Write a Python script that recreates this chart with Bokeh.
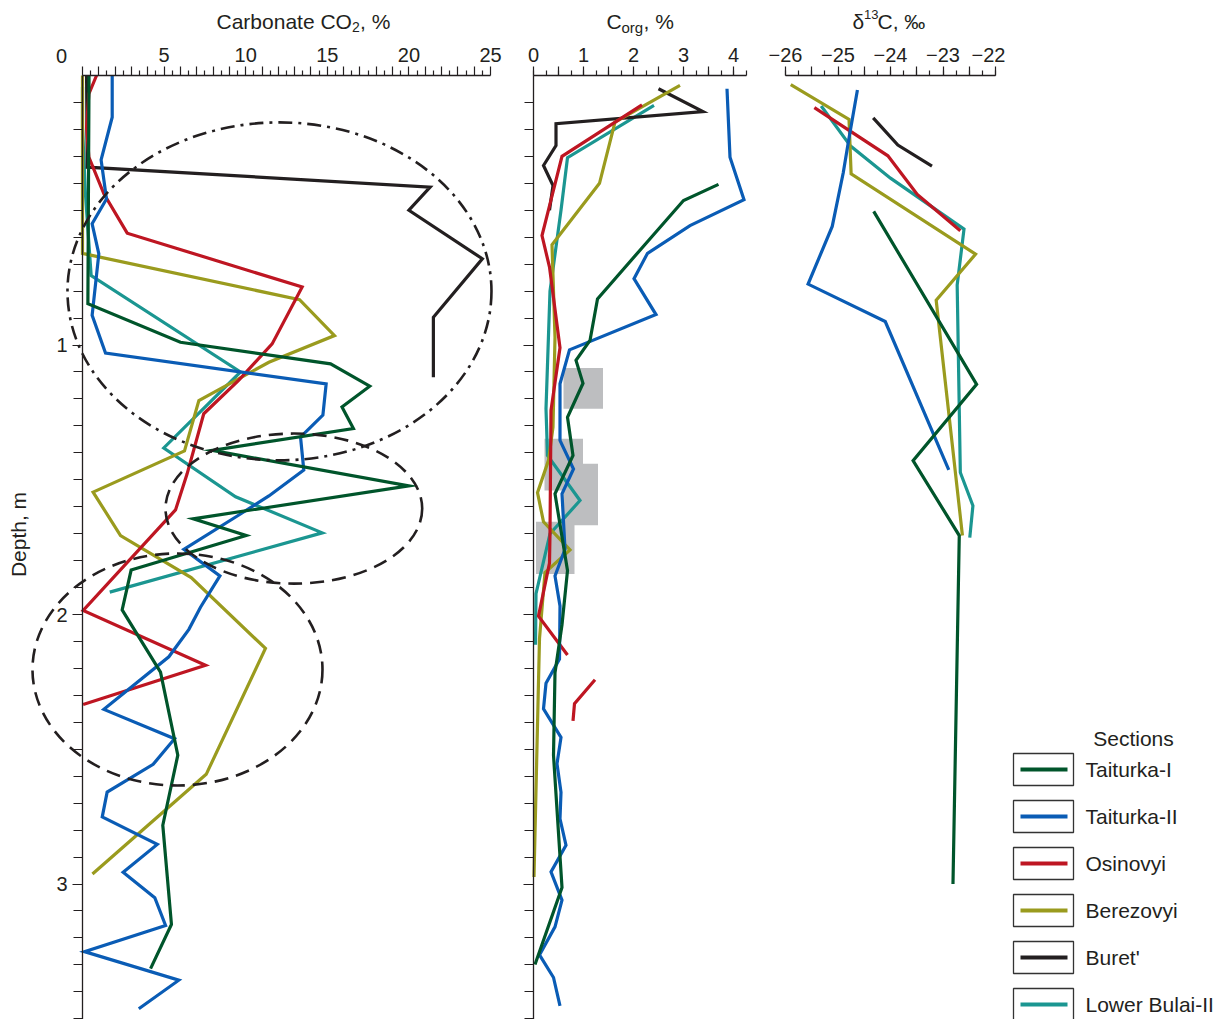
import numpy as np
from math import pi
from bokeh.plotting import figure
from bokeh.models import Range1d, FixedTicker, CustomJSTickFormatter, Label, LinearAxis
from bokeh.layouts import row
from bokeh.core.properties import value
from bokeh.embed import file_html
from bokeh.resources import INLINE

FONT = "Liberation Sans"
TXT = "#231f20"

# ---------------- data ----------------
sections = ["Taiturka-I", "Taiturka-II", "Osinovyi", "Berezovyi", "Buret'", "Lower Bulai-II"]
colors = ["#00552b", "#0a5cb5", "#be1622", "#9a9b1e", "#231f20", "#1b9691"]

# Carbonate CO2, % (value, depth m)
co2_t1_v = [0.4, 0.33, 6.0, 15.2, 17.6, 15.9, 16.6, 7.95, 20.0, 6.78, 10.03, 2.98, 2.43, 4.78, 5.84, 4.92, 5.45, 4.17]
co2_t1_d = [0.0, 0.847, 0.99, 1.07, 1.153, 1.23, 1.31, 1.391, 1.523, 1.645, 1.707, 1.835, 1.983, 2.214, 2.522, 2.782, 3.15, 3.314]
co2_t2_v = [1.82, 1.82, 1.14, 1.47, 0.59, 1.0, 0.59, 1.41, 14.93, 14.73, 13.36, 13.56, 11.42, 9.68, 6.21, 8.42, 7.23, 6.52,
            5.29, 1.31, 5.64, 4.33, 1.51, 1.21, 4.58, 2.49, 4.43, 5.09, 0.12, 5.9, 3.45]
co2_t2_d = [0.0, 0.155, 0.313, 0.458, 0.55, 0.662, 0.89, 1.03, 1.144, 1.26, 1.342, 1.464, 1.56, 1.627, 1.758, 1.857, 1.973, 2.055,
            2.157, 2.352, 2.461, 2.556, 2.659, 2.751, 2.853, 2.956, 3.051, 3.154, 3.251, 3.357, 3.463]
co2_os_v = [0.86, 0.39, 0.25, 0.39, 1.31, 2.74, 13.46, 11.62, 9.58, 7.43, 6.41, 5.7, 0.04, 7.54, 0.04]
co2_os_d = [0.0, 0.068, 0.19, 0.303, 0.439, 0.585, 0.785, 0.996, 1.13, 1.255, 1.478, 1.612, 1.985, 2.188, 2.334]
co2_be_v = [0.0, 0.0, 13.3, 15.44, 11.42, 7.13, 6.25, 0.65, 2.33, 6.66, 11.21, 7.58, 0.61]
co2_be_d = [0.0, 0.66, 0.832, 0.965, 1.064, 1.206, 1.393, 1.546, 1.707, 1.863, 2.126, 2.593, 2.963]
co2_bu_v = [0.25, 0.29, 21.3, 20.0, 24.5, 21.5, 21.5]
co2_bu_d = [0.0, 0.34, 0.414, 0.50, 0.68, 0.897, 1.12]
co2_lb_v = [0.0, 0.0, 0.18, 0.53, 9.68, 4.98, 9.38, 14.69, 1.67]
co2_lb_d = [0.043, 0.19, 0.44, 0.742, 1.10, 1.382, 1.563, 1.697, 1.917]

# Corg, %
corg_t1_v = [3.7, 3.0, 2.3, 1.28, 1.13, 0.85, 0.99, 0.68, 0.79, 0.43, 0.68, 0.57, 0.43, 0.4, 0.57, 0.03]
corg_t1_d = [0.404, 0.464, 0.612, 0.829, 0.983, 1.057, 1.142, 1.268, 1.41, 1.552, 1.837, 2.038, 2.216, 2.522, 3.013, 3.299]
corg_t2_v = [3.87, 3.93, 4.21, 3.13, 2.28, 2.01, 2.45, 0.72, 0.53, 0.53, 0.8, 0.57, 0.63, 0.43, 0.53, 0.52, 0.25, 0.2,
             0.55, 0.47, 0.55, 0.53, 0.65, 0.35, 0.57, 0.43, 0.12, 0.4, 0.53]
corg_t2_d = [0.049, 0.303, 0.461, 0.557, 0.66, 0.754, 0.887, 1.018, 1.144, 1.354, 1.46, 1.552, 1.758, 1.857, 1.968, 2.165, 2.255, 2.35,
             2.456, 2.554, 2.66, 2.758, 2.856, 2.955, 3.06, 3.159, 3.263, 3.347, 3.452]
corg_os_v = [2.17, 0.57, 0.33, 0.17, 0.32, 0.53, 0.35, 0.33, 0.32, 0.1, 0.68, np.nan, 1.23, 0.82, 0.79]
corg_os_d = [0.109, 0.30, 0.476, 0.594, 0.711, 1.01, 1.243, 1.70, 1.809, 2.006, 2.15, np.nan, 2.242, 2.331, 2.395]
corg_be_v = [2.93, 1.63, 1.32, 0.37, 0.43, 0.39, 0.3, 0.08, 0.2, 0.73, 0.23, 0.12, 0.01]
corg_be_d = [0.037, 0.173, 0.40, 0.628, 0.971, 1.305, 1.428, 1.548, 1.656, 1.76, 1.844, 2.089, 2.974]
corg_bu_v = [2.5, 3.39, 0.45, 0.45, 0.2, 0.39, 0.32]
corg_bu_d = [0.049, 0.134, 0.179, 0.26, 0.334, 0.408, 0.50]
corg_lb_v = [2.41, 0.68, 0.55, 0.33, 0.25, 0.28, 0.93, 0.33, 0.05, 0.04]
corg_lb_d = [0.111, 0.305, 0.50, 0.80, 1.237, 1.41, 1.577, 1.70, 1.923, 2.112]

# shaded Corg intervals
zone_left = [0.6, 0.22, 0.6, 0.05]
zone_right = [1.39, 0.99, 1.29, 0.82]
zone_top = [1.085, 1.348, 1.441, 1.656]
zone_bottom = [1.237, 1.54, 1.669, 1.85]

# delta13C, permil
d13_t1_v = [-24.32, -22.36, -23.57, -22.69, -22.81]
d13_t1_d = [0.504, 1.146, 1.429, 1.707, 3.0]
d13_t2_v = [-24.63, -24.79, -24.9, -25.11, -25.57, -24.1, -22.89]
d13_t2_d = [0.054, 0.232, 0.361, 0.56, 0.774, 0.913, 1.463]
d13_os_v = [-25.45, -24.05, -23.49, -22.67]
d13_os_d = [0.119, 0.298, 0.441, 0.576]
d13_be_v = [-25.9, -24.79, -24.75, -22.38, -23.13, -22.63]
d13_be_d = [0.034, 0.163, 0.365, 0.663, 0.834, 1.707]
d13_bu_v = [-24.33, -23.86, -23.21]
d13_bu_d = [0.157, 0.258, 0.336]
d13_lb_v = [-25.32, -24.76, -24.0, -22.6, -22.73, -22.67, -22.43, -22.49]
d13_lb_d = [0.113, 0.262, 0.381, 0.57, 0.778, 1.473, 1.596, 1.715]

# outlined groups in the carbonate panel (centre value, centre depth, width, height)
ell_x = [12.07, 12.95, 5.82]
ell_y = [0.801, 1.607, 2.204]
ell_w = [25.98, 15.73, 17.77]
ell_h = [1.254, 0.557, 0.861]
ell_dash = ["14 6 3 6", "14 8", "14 8"]

# ---------------- geometry ----------------
H = 1019
Y0PX = 75.0
PXM = 269.5


def dy(py):
    return (py - Y0PX) / PXM


def lx(px):
    return (px - 82) / 16.32


def mx(px):
    return (px - 533) / 50.0


def rx(px):
    return -26 + (px - 785) / 52.5


Y_BOTTOM = dy(H)
Y_TOP = dy(0)
tenths = [round(0.1 * i, 1) for i in range(1, 36)]


def base_fig(width, xr):
    p = figure(width=width, height=H, x_range=xr, y_range=Range1d(Y_BOTTOM, Y_TOP),
               x_axis_location="above", y_axis_location=None, toolbar_location=None,
               output_backend="svg", min_border_left=0, min_border_right=0,
               min_border_top=0, min_border_bottom=0)
    p.outline_line_color = None
    p.grid.visible = False
    p.background_fill_color = "white"
    p.border_fill_color = "white"
    ax = p.xaxis[0]
    ax.fixed_location = 0
    ax.axis_line_color = TXT
    ax.axis_line_width = 1.3
    ax.major_tick_line_color = TXT
    ax.minor_tick_line_color = TXT
    ax.major_tick_line_width = 1.2
    ax.minor_tick_line_width = 1.2
    ax.major_tick_in = 0
    ax.minor_tick_in = 0
    ax.major_tick_out = 9
    ax.minor_tick_out = 5
    ax.major_label_standoff = 5
    ax.major_label_text_font = FONT
    ax.major_label_text_font_size = "20px"
    ax.major_label_text_color = TXT
    return p


def add_yaxis(p, show_labels):
    ya = LinearAxis(fixed_location=0, bounds=(0, Y_BOTTOM),
                    ticker=FixedTicker(ticks=[1, 2, 3], minor_ticks=tenths))
    ya.axis_line_color = TXT
    ya.axis_line_width = 1.3
    ya.major_tick_line_color = TXT
    ya.minor_tick_line_color = TXT
    ya.major_tick_line_width = 1.2
    ya.minor_tick_line_width = 1.2
    ya.major_tick_in = 0
    ya.minor_tick_in = 0
    ya.major_tick_out = 10
    ya.minor_tick_out = 9
    ya.major_label_standoff = 5
    ya.major_label_text_font = FONT
    ya.major_label_text_font_size = "20px"
    ya.major_label_text_color = TXT
    if not show_labels:
        ya.formatter = CustomJSTickFormatter(code="return '';")
    p.add_layout(ya, "left")
    return ya


def lbl(p, x, y, text, size="21px", align="left", baseline="alphabetic", angle=0):
    p.add_layout(Label(x=x, y=y, text=text, text_font=FONT, text_font_size=size,
                       text_color=TXT, text_align=align, text_baseline=baseline, angle=angle))


LW = 3.2
order = [5, 4, 3, 2, 1, 0]

# ---------------- carbonate panel ----------------
p1 = base_fig(513, Range1d(lx(0), lx(513)))
p1.xaxis[0].bounds = (0, 25)
p1.xaxis[0].ticker = FixedTicker(ticks=list(range(0, 26)), minor_ticks=[i + 0.5 for i in range(25)])
p1.xaxis[0].formatter = CustomJSTickFormatter(code="return (tick > 0 && tick % 5 === 0) ? tick.toFixed(0) : '';")
add_yaxis(p1, True)

co2 = [(co2_lb_v, co2_lb_d), (co2_bu_v, co2_bu_d), (co2_be_v, co2_be_d),
       (co2_os_v, co2_os_d), (co2_t2_v, co2_t2_d), (co2_t1_v, co2_t1_d)]
for (xs, ys), k in zip(co2, order):
    p1.line(xs, ys, line_color=colors[k], line_width=LW, line_join="miter")

for i in range(len(ell_x)):
    p1.ellipse(x=ell_x[i], y=ell_y[i], width=ell_w[i], height=ell_h[i],
               fill_color=None, line_color=TXT, line_width=2.6, line_dash=ell_dash[i])

lbl(p1, lx(216), dy(21), "Carbonate CO")
lbl(p1, lx(351.5), dy(26), "2", size="14px")
lbl(p1, lx(359.5), dy(21), ", %")
lbl(p1, lx(61), dy(55), "0", size="20px", align="center")
lbl(p1, lx(18), dy(534), "Depth, m", size="21px", align="center", baseline="middle", angle=pi / 2)

# ---------------- Corg panel ----------------
p2 = base_fig(252, Range1d(mx(513), mx(765)))
p2.xaxis[0].bounds = (0, 4.25)
p2.xaxis[0].ticker = FixedTicker(ticks=[0.5 * i for i in range(9)], minor_ticks=[0.25 * i for i in range(18)])
p2.xaxis[0].formatter = CustomJSTickFormatter(code="return (Math.abs(tick - Math.round(tick)) < 1e-9) ? tick.toFixed(0) : '';")
add_yaxis(p2, False)

p2.quad(left=zone_left, right=zone_right, top=zone_top, bottom=zone_bottom,
        fill_color="#bdbec0", line_color=None)
corg = [(corg_lb_v, corg_lb_d), (corg_bu_v, corg_bu_d), (corg_be_v, corg_be_d),
        (corg_os_v, corg_os_d), (corg_t2_v, corg_t2_d), (corg_t1_v, corg_t1_d)]
for (xs, ys), k in zip(corg, order):
    p2.line(xs, ys, line_color=colors[k], line_width=LW, line_join="miter")

lbl(p2, mx(606), dy(21), "C")
lbl(p2, mx(621), dy(26.5), "org", size="15px")
lbl(p2, mx(643), dy(21), ", %")

# ---------------- delta13C panel ----------------
p3 = base_fig(240, Range1d(rx(765), rx(1005)))
p3.xaxis[0].bounds = (-26, -22)
p3.xaxis[0].ticker = FixedTicker(ticks=[-26 + 0.5 * i for i in range(9)], minor_ticks=[-26 + 0.25 * i for i in range(17)])
p3.xaxis[0].formatter = CustomJSTickFormatter(
    code="return (Math.abs(tick - Math.round(tick)) < 1e-9) ? '\u2212' + Math.abs(tick).toFixed(0) : '';")

d13 = [(d13_lb_v, d13_lb_d), (d13_bu_v, d13_bu_d), (d13_be_v, d13_be_d),
       (d13_os_v, d13_os_d), (d13_t2_v, d13_t2_d), (d13_t1_v, d13_t1_d)]
for (xs, ys), k in zip(d13, order):
    p3.line(xs, ys, line_color=colors[k], line_width=LW, line_join="miter")

lbl(p3, rx(852), dy(21), "\u03b4")
lbl(p3, rx(863.5), dy(13.5), "13", size="13px")
lbl(p3, rx(877), dy(21), "C, \u2030")

# ---------------- legend panel ----------------
pl = figure(width=223, height=H, x_range=Range1d(1005, 1228), y_range=Range1d(H, 0),
            x_axis_location=None, y_axis_location=None, toolbar_location=None,
            output_backend="svg", min_border=0)
pl.outline_line_color = None
pl.grid.visible = False
pl.background_fill_color = "white"
pl.border_fill_color = "white"

idx = np.arange(len(sections))
ys_leg = 769 + 47.0 * idx
pl.rect(x=1043, y=ys_leg, width=60, height=32, fill_color="white", line_color="#333333", line_width=1.3)
pl.segment(x0=1020, x1=1067, y0=ys_leg, y1=ys_leg, line_color=colors, line_width=4)
pl.text(x=1085, y=ys_leg, text=sections, text_font=value(FONT), text_font_size="21px",
        text_baseline="middle", text_align="left", text_color=TXT)
pl.text(x=[1133], y=[738], text=["Sections"], text_font=value(FONT), text_font_size="21px",
        text_baseline="middle", text_align="center", text_color=TXT)

layout = row(p1, p2, p3, pl, spacing=0)
open("out.html", "w").write(file_html(layout, INLINE))
